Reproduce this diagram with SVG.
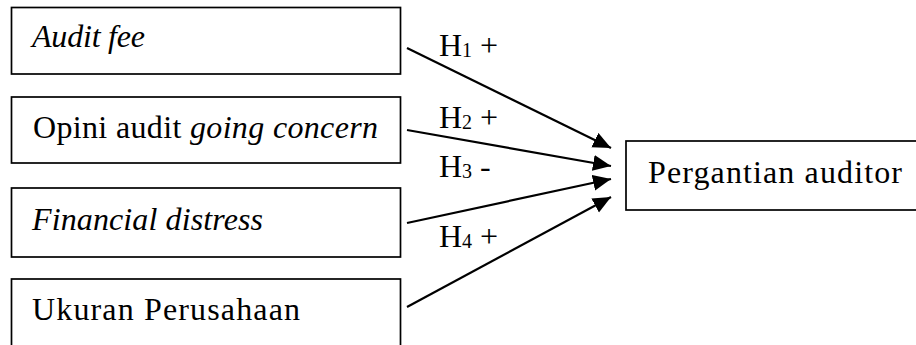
<svg xmlns="http://www.w3.org/2000/svg" width="916" height="345" viewBox="0 0 916 345">
<defs>
<style>
.box{fill:#fff;stroke:#000;stroke-width:1.7}
.t{font-family:"Liberation Serif","Times New Roman",serif;font-size:32px;fill:#000}
.i{font-style:italic}
.sub{font-size:20px}
.c{stroke:#000;stroke-width:2.2;fill:none;marker-end:url(#ah)}
</style>
<marker id="ah" markerUnits="userSpaceOnUse" markerWidth="19" markerHeight="17" refX="18" refY="8" orient="auto">
<path d="M0,0 L18,8 L0,16 Z" fill="#000"/>
</marker>
</defs>
<rect width="916" height="345" fill="#fff"/>
<g id="n1">
<rect class="box" x="11.5" y="7.5" width="389" height="66.5"/>
<text class="t i" x="32" y="47" textLength="113" lengthAdjust="spacing">Audit fee</text>
</g>
<g id="n2">
<rect class="box" x="11.5" y="97" width="389" height="66"/>
<text class="t" x="33" y="138" textLength="345" lengthAdjust="spacing">Opini audit <tspan class="i">going concern</tspan></text>
</g>
<g id="n3">
<rect class="box" x="11.5" y="188" width="389" height="69"/>
<text class="t i" x="32" y="230" textLength="231" lengthAdjust="spacing">Financial distress</text>
</g>
<g id="n4">
<rect class="box" x="11.5" y="279" width="389" height="90"/>
<text class="t" x="32" y="320" textLength="268" lengthAdjust="spacing">Ukuran Perusahaan</text>
</g>
<g id="n5">
<rect class="box" x="626" y="141" width="300" height="69"/>
<text class="t" x="648" y="183" textLength="254" lengthAdjust="spacing">Pergantian auditor</text>
</g>
<g id="connectors">
<line class="c" x1="407" y1="48" x2="611" y2="148"/>
<line class="c" x1="407" y1="130" x2="611" y2="166"/>
<line class="c" x1="407" y1="223" x2="611" y2="179"/>
<line class="c" x1="407" y1="307" x2="611" y2="197"/>
</g>
<g id="labels">
<text class="t" x="439" y="56">H<tspan class="sub" dy="1">1</tspan><tspan dy="-1"> +</tspan></text>
<text class="t" x="439" y="128">H<tspan class="sub" dy="1">2</tspan><tspan dy="-1"> +</tspan></text>
<text class="t" x="439" y="177">H<tspan class="sub" dy="1">3</tspan><tspan dy="-1"> -</tspan></text>
<text class="t" x="439" y="247">H<tspan class="sub" dy="1">4</tspan><tspan dy="-1"> +</tspan></text>
</g>
</svg>
